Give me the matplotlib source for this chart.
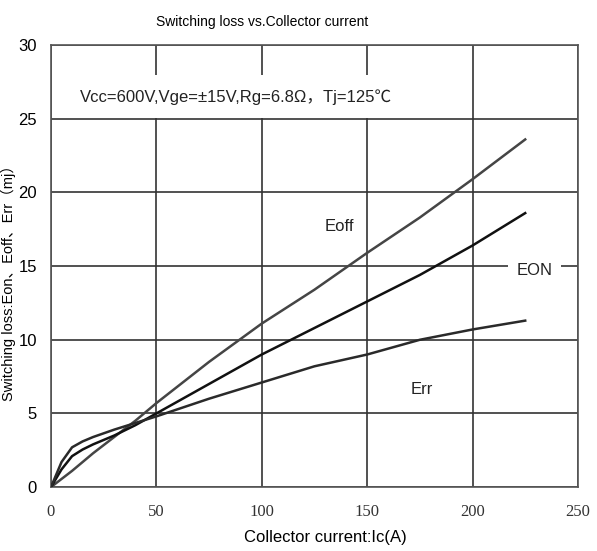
import matplotlib.pyplot as plt
import numpy as np
from matplotlib import font_manager

# data
ic = [0, 5, 10, 15, 20, 30, 40, 50, 75, 100, 125, 150, 175, 200, 225]
err = [0, 1.7, 2.7, 3.1, 3.4, 3.9, 4.35, 4.8, 6.0, 7.1, 8.2, 9.0, 10.0, 10.7, 11.3]
eon = [0, 1.2, 2.1, 2.55, 2.9, 3.5, 4.2, 5.0, 7.0, 9.0, 10.8, 12.6, 14.4, 16.4, 18.6]
ic_off = [0, 10, 20, 30, 40, 50, 75, 100, 125, 150, 175, 200, 225]
eoff = [0, 1.1, 2.3, 3.4, 4.5, 5.7, 8.5, 11.1, 13.4, 15.9, 18.3, 20.9, 23.6]

xticks = [0, 50, 100, 150, 200, 250]
yticks = [0, 5, 10, 15, 20, 25, 30]

names = {f.name for f in font_manager.fontManager.ttflist}
narrow = 'Liberation Sans Narrow' if 'Liberation Sans Narrow' in names else 'Liberation Sans'
fam = [narrow, 'Noto Sans CJK SC', 'DejaVu Sans']
plt.rcParams['font.family'] = fam

fig = plt.figure(figsize=(5.97, 5.51), dpi=100)
ax = fig.add_axes([0.0854, 0.116, 0.8826, 0.802])

ax.plot(ic_off, eoff, color='#454545', lw=1.8, zorder=3)
ax.plot(ic, eon, color='#111111', lw=1.8, zorder=3)
ax.plot(ic, err, color='#2a2a2a', lw=1.8, zorder=3)

ax.set_xlim(0, 250)
ax.set_ylim(0, 30)
ax.set_xticks(xticks)
ax.set_yticks(yticks)
ax.grid(True, color='#333333', lw=1.2)
ax.set_axisbelow(True)
for s in ax.spines.values():
    s.set_color('#555555')
    s.set_linewidth(1.2)
ax.tick_params(length=0, labelsize=12)
ax.tick_params(axis='x', pad=12)
ax.tick_params(axis='y', pad=10)
for lb in ax.get_xticklabels():
    lb.set_family(['Liberation Serif', 'DejaVu Serif'])
    lb.set_color('#333333')

ax.set_title('Switching loss vs.Collector current', fontsize=10, pad=14, x=0.40)
ax.set_xlabel('Collector current:Ic(A)', fontsize=12)
ax.xaxis.set_label_coords(0.52, -0.097)
ax.set_ylabel('Switching loss:Eon、Eoff、Err（mj）', fontsize=10.5)
ax.yaxis.set_label_coords(-0.066, 0.47)

box = dict(facecolor='white', edgecolor='none', pad=6)
ax.text(88, 26.5, 'Vcc=600V,Vge=±15V,Rg=6.8Ω，Tj=125℃', fontsize=12, color='#222222',
        ha='center', va='center', bbox=dict(facecolor='white', edgecolor='none', pad=10), zorder=2)
ax.text(137, 17.7, 'Eoff', fontsize=12, ha='center', va='center', color='#222222', zorder=2)
ax.text(229.5, 14.7, 'EON', fontsize=12, ha='center', va='center', color='#222222', bbox=box, zorder=2)
ax.text(176, 6.6, 'Err', fontsize=12, ha='center', va='center', color='#222222', zorder=2)

fig.savefig('out.png', dpi=100)
